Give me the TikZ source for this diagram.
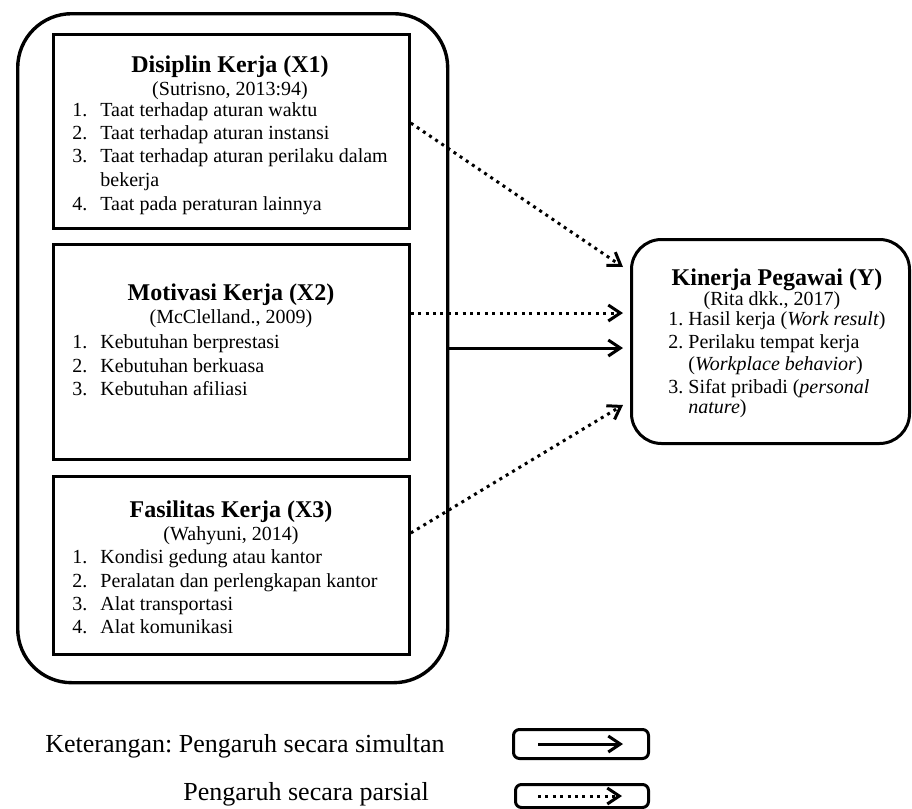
\documentclass[tikz,border=0pt]{standalone}
\usepackage{fontspec}
\setmainfont{Liberation Serif}
\usetikzlibrary{arrows.meta,calc}
\frenchspacing
\newcommand\numlbl[1]{\makebox[14pt][l]{#1}}
\newcommand\numlbly[1]{\makebox[10pt][l]{#1}}
\begin{document}
\begin{tikzpicture}[x=0.5pt,y=-0.5pt,
  box/.style={draw, line width=1.4pt, anchor=north west, inner sep=0pt},
  ttl/.style={font=\fontsize{12}{14}\selectfont\bfseries, anchor=base, inner sep=0pt},
  cit/.style={font=\fontsize{10}{12}\selectfont, anchor=base, inner sep=0pt},
  itm/.style={font=\fontsize{10}{12}\selectfont, anchor=base west, inner sep=0pt},
  leg/.style={font=\fontsize{13}{15}\selectfont, anchor=base west, inner sep=0pt},
  sim/.style={line width=1.5pt, -{Straight Barb[length=6pt,width=8pt]}},
  par/.style={line width=1.5pt, dash pattern=on 1.5pt off 2.2pt, -{Straight Barb[length=6pt,width=8pt]}},
]
\useasboundingbox (0,0) rectangle (912,809);

% outer group
\node[box, line width=1.7pt, rounded corners=27pt, minimum width=215pt, minimum height=334.5pt] (outer) at (16,12) {};

% X1
\node[box, minimum width=178pt, minimum height=97pt] (x1) at (52,33) {};
\node[ttl] (x1t) at (230,72) {Disiplin Kerja (X1)};
\node[cit] (x1c) at (230,95) {(Sutrisno, 2013:94)};
\node[itm] (x1a) at (72,116) {\numlbl{1.}Taat terhadap aturan waktu};
\node[itm] (x1b) at (72,139) {\numlbl{2.}Taat terhadap aturan instansi};
\node[itm] (x1d) at (72,162) {\numlbl{3.}Taat terhadap aturan perilaku dalam};
\node[itm] (x1e) at (72,186) {\numlbl{}bekerja};
\node[itm] (x1f) at (72,210) {\numlbl{4.}Taat pada peraturan lainnya};

% X2
\node[box, minimum width=178pt, minimum height=107.5pt] (x2) at (52,243) {};
\node[ttl] (x2t) at (231,300) {Motivasi Kerja (X2)};
\node[cit] (x2c) at (231,323) {(McClelland., 2009)};
\node[itm] (x2a) at (72,348) {\numlbl{1.}Kebutuhan berprestasi};
\node[itm] (x2b) at (72,372) {\numlbl{2.}Kebutuhan berkuasa};
\node[itm] (x2d) at (72,395) {\numlbl{3.}Kebutuhan afiliasi};

% X3
\node[box, minimum width=178pt, minimum height=89pt] (x3) at (52,475) {};
\node[ttl] (x3t) at (231,517) {Fasilitas Kerja (X3)};
\node[cit] (x3c) at (231,540) {(Wahyuni, 2014)};
\node[itm] (x3a) at (72,563) {\numlbl{1.}Kondisi gedung atau kantor};
\node[itm] (x3b) at (72,587) {\numlbl{2.}Peralatan dan perlengkapan kantor};
\node[itm] (x3d) at (72,610) {\numlbl{3.}Alat transportasi};
\node[itm] (x3e) at (72,633) {\numlbl{4.}Alat komunikasi};

% Y
\node[box, line width=1.5pt, rounded corners=15pt, minimum width=139pt, minimum height=102pt] (y) at (630,238) {};
\node[ttl] (yt) at (777,285) {Kinerja Pegawai (Y)};
\node[cit] (yc) at (772,305) {(Rita dkk., 2017)};
\node[itm] (ya) at (668,325) {\numlbly{1.}Hasil kerja (\textit{Work result})};
\node[itm] (yb) at (668,348) {\numlbly{2.}Perilaku tempat kerja};
\node[itm] (yd) at (668,370) {\numlbly{}(\textit{Workplace behavior})};
\node[itm] (ye) at (668,393) {\numlbly{3.}Sifat pribadi (\textit{personal}};
\node[itm] (yf) at (668,413) {\numlbly{}\textit{nature})};

% connectors
\draw[par] ($(x1.north east)+(0,90)$) -- ($(y.north west)+(-7,29)$);
\draw[par] ($(x2.north east)+(0,70)$) -- ($(y.north west)+(-7,75)$);
\draw[sim] ($(outer.north east)+(0,336)$) -- ($(y.north west)+(-7,110)$);
\draw[par] ($(x3.north east)+(0,58)$) -- ($(y.north west)+(-7,167)$);

% legend
\node[leg] (l1) at (45,752) {Keterangan: Pengaruh secara simultan};
\node[leg] (l2) at (183,800) {Pengaruh secara parsial};
\node[box, line width=1.5pt, rounded corners=3pt, minimum width=67.5pt, minimum height=14.5pt] (lg1) at (512,728) {};
\node[box, line width=1.5pt, rounded corners=3pt, minimum width=66.5pt, minimum height=11.5pt] (lg2) at (514,783) {};
\draw[sim] ($(lg1.west)+(26,0)$) -- ($(lg1.east)+(-27,0)$);
\draw[par] ($(lg2.west)+(24,0)$) -- ($(lg2.east)+(-28,0)$);
\end{tikzpicture}
\end{document}
